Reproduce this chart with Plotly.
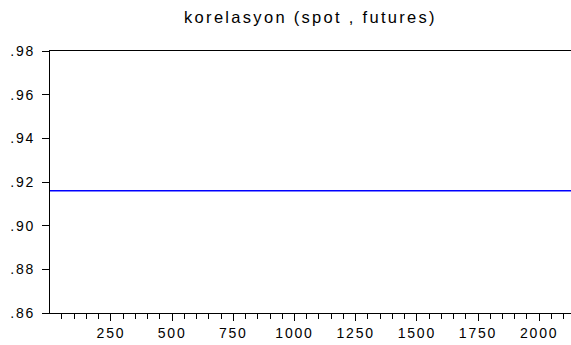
import plotly.graph_objects as go

# Data
obs = [1, 2130]                 # first and last observation
korelasyon = [0.916, 0.916]     # constant correlation (spot, futures)
y_tick_vals = [0.86, 0.88, 0.90, 0.92, 0.94, 0.96, 0.98]
y_tick_text = [".86", ".88", ".90", ".92", ".94", ".96", ".98"]
title_text = "korelasyon (spot , futures)"

SP_T = "letter-spacing:2.3px"
SP_L = "letter-spacing:1.8px"

fig = go.Figure()
fig.add_trace(go.Scatter(
    x=obs, y=korelasyon, mode="lines",
    line=dict(color="#0000FF", width=1.3),
    showlegend=False, hoverinfo="skip",
))

fig.update_layout(
    width=571, height=345,
    margin=dict(l=50, r=0, t=51, b=32, autoexpand=False),
    paper_bgcolor="white", plot_bgcolor="white",
    font=dict(family="Liberation Sans, Arial, sans-serif", color="black", size=14),
    title=dict(
        text=f'<span style="{SP_T}">{title_text}</span>',
        font=dict(size=16.5, color="black"),
        x=0.5, xref="paper", xanchor="center",
        y=1 - 17 / 345, yref="container", yanchor="middle",
    ),
)

fig.update_xaxes(
    range=[1, 2130],
    tickmode="linear", tick0=0, dtick=250,
    ticks="outside", ticklen=7, tickwidth=1, tickcolor="black",
    showline=True, linecolor="black", linewidth=1, mirror=True,
    showgrid=False, zeroline=False,
    tickfont=dict(size=14),
    minor=dict(ticks="outside", ticklen=5, tickwidth=1, tickcolor="black",
               tick0=0, dtick=50, showgrid=False),
)
fig.update_xaxes(labelalias={str(v): f'<span style="{SP_L}">{v}</span>' for v in range(250, 2001, 250)})

fig.update_yaxes(
    range=[0.86, 0.98],
    tickmode="array", tickvals=y_tick_vals,
    ticktext=[f'<span style="{SP_L}">{t}</span>' for t in y_tick_text],
    ticks="outside", ticklen=7, tickwidth=1, tickcolor="black",
    ticklabelstandoff=4,
    showline=True, linecolor="black", linewidth=1, mirror=False,
    showgrid=False, zeroline=False,
    tickfont=dict(size=14),
)

fig.write_html(
    "out.html",
    config={"displayModeBar": False, "staticPlot": True},
    post_script="document.body.style.margin='0';document.body.style.overflow='hidden';",
)
